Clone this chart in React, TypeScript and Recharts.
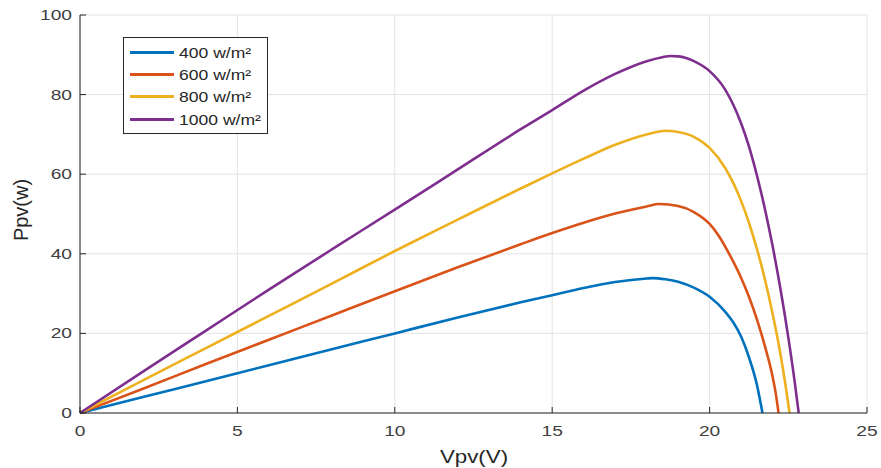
import { LineChart, Line, XAxis, YAxis, CartesianGrid } from 'recharts'

// PV array power vs voltage at four irradiance levels
const v400 = [0, 2, 4, 6, 8, 10, 12, 14, 15, 16, 17, 18, 18.2, 18.6, 19, 19.5, 20, 20.5, 20.75, 21, 21.25, 21.5, 21.68]
const p400 = [0, 4.0, 8.0, 12.0, 16.0, 20.0, 24.0, 27.8, 29.6, 31.4, 32.9, 33.8, 33.9, 33.6, 33.0, 31.5, 29.2, 25.4, 22.8, 19.2, 14.0, 7.2, 0]

const v600 = [0, 2, 4, 6, 8, 10, 12, 14, 15, 16, 17, 18, 18.4, 19, 19.5, 20, 20.3, 20.6, 21, 21.25, 21.5, 21.75, 22, 22.1, 22.19]
const p600 = [0, 6.1, 12.3, 18.4, 24.5, 30.6, 36.6, 42.4, 45.2, 47.8, 50.1, 51.9, 52.5, 52.0, 50.5, 47.5, 44.4, 40.3, 34.0, 29.2, 23.6, 17.0, 9.2, 5.0, 0]

const v800 = [0, 2, 4, 6, 8, 10, 12, 14, 15, 16, 17, 18, 18.6, 19, 19.5, 20, 20.5, 21, 21.25, 21.5, 21.75, 22, 22.2, 22.4, 22.54]
const p800 = [0, 8.2, 16.3, 24.4, 32.5, 40.7, 48.6, 56.4, 60.2, 63.9, 67.4, 70.0, 70.9, 70.6, 69.4, 66.6, 61.5, 53.3, 47.8, 41.3, 33.8, 25.0, 17.0, 7.6, 0]

const v1000 = [0, 2, 4, 6, 8, 10, 12, 14, 15, 16, 17, 18, 18.5, 18.75, 19, 19.25, 19.5, 20, 20.5, 21, 21.25, 21.5, 21.75, 22, 22.25, 22.5, 22.7, 22.83]
const p1000 = [0, 10.4, 20.7, 31.0, 41.1, 51.1, 61.2, 71.3, 76.1, 81.0, 85.2, 88.4, 89.4, 89.7, 89.6, 89.2, 88.4, 85.9, 81.2, 72.8, 67.0, 59.8, 51.5, 42.0, 31.2, 19.0, 8.0, 0]

const xTicks = [0, 5, 10, 15, 20, 25]
const yTicks = [0, 20, 40, 60, 80, 100]

const series = [
  { name: '400 w/m²', color: '#0072BD', v: v400, p: p400 },
  { name: '600 w/m²', color: '#D95319', v: v600, p: p600 },
  { name: '800 w/m²', color: '#EDB120', v: v800, p: p800 },
  { name: '1000 w/m²', color: '#7E2F8E', v: v1000, p: p1000 },
]

const FONT = '"Liberation Sans", Arial, sans-serif'
const INK = '#262626'

const XTick = ({ x, y, payload }: any) => (
  <text
    transform={`translate(${x},${y}) scale(1.28,1)`}
    textAnchor="middle"
    dy={15}
    fontSize={15}
    fontFamily={FONT}
    fill="#404040"
  >
    {payload.value}
  </text>
)

const YTick = ({ x, y, payload }: any) => (
  <text
    transform={`translate(${x},${y}) scale(1.28,1)`}
    textAnchor="end"
    dy={5}
    fontSize={15}
    fontFamily={FONT}
    fill="#404040"
  >
    {payload.value}
  </text>
)

const NoTick = () => <g />

export default function App() {
  return (
    <div
      style={{
        position: 'absolute',
        left: 0,
        top: 0,
        width: 881,
        height: 468,
        background: '#fff',
        fontFamily: FONT,
      }}
    >
      <LineChart width={881} height={468} margin={{ top: 15, right: 14, bottom: 0, left: 0 }}>
        <CartesianGrid stroke="#e3e3e3" strokeWidth={1} />
        <XAxis
          type="number"
          dataKey="v"
          domain={[0, 25]}
          ticks={xTicks}
          height={55}
          stroke={INK}
          tickSize={-6}
          tickMargin={14}
          tick={<XTick />}
          allowDuplicatedCategory={false}
          label={{
            content: () => (
              <text
                transform="translate(474,463) scale(1.24,1)"
                textAnchor="middle"
                fontSize={18}
                fontFamily={FONT}
                fill={INK}
              >
                Vpv(V)
              </text>
            ),
          }}
        />
        <XAxis
          xAxisId="top"
          orientation="top"
          type="number"
          domain={[0, 25]}
          ticks={xTicks}
          height={0}
          stroke={INK}
          tickSize={-6}
          tick={<NoTick />}
        />
        <YAxis
          type="number"
          domain={[0, 100]}
          ticks={yTicks}
          width={80}
          stroke={INK}
          tickSize={-6}
          tickMargin={14}
          tick={<YTick />}
          label={{
            content: () => (
              <text
                transform="translate(28,210) rotate(-90)"
                textAnchor="middle"
                fontSize={20}
                fontFamily={FONT}
                fill={INK}
              >
                Ppv(w)
              </text>
            ),
          }}
        />
        <YAxis
          yAxisId="right"
          orientation="right"
          type="number"
          domain={[0, 100]}
          ticks={yTicks}
          width={0}
          stroke={INK}
          tickSize={-6}
          tick={<NoTick />}
        />
        {series.map((s) => (
          <Line
            key={s.name}
            name={s.name}
            data={s.v.map((v, i) => ({ v, p: s.p[i] }))}
            dataKey="p"
            type="monotone"
            stroke={s.color}
            strokeWidth={2.6}
            dot={false}
            isAnimationActive={false}
          />
        ))}
      </LineChart>
      <div
        style={{
          position: 'absolute',
          left: 123,
          top: 37,
          width: 143,
          height: 92,
          border: `1px solid ${INK}`,
          background: '#fff',
          paddingTop: 3,
          boxSizing: 'content-box',
        }}
      >
        {series.map((s) => (
          <div key={s.name} style={{ display: 'flex', alignItems: 'center', height: 22.3 }}>
            <span style={{ width: 44, height: 3, background: s.color, marginLeft: 6 }} />
            <span
              style={{
                display: 'inline-block',
                marginLeft: 5,
                fontSize: 15,
                color: INK,
                transform: 'scaleX(1.17)',
                transformOrigin: 'left center',
                whiteSpace: 'nowrap',
              }}
            >
              {s.name}
            </span>
          </div>
        ))}
      </div>
    </div>
  )
}
